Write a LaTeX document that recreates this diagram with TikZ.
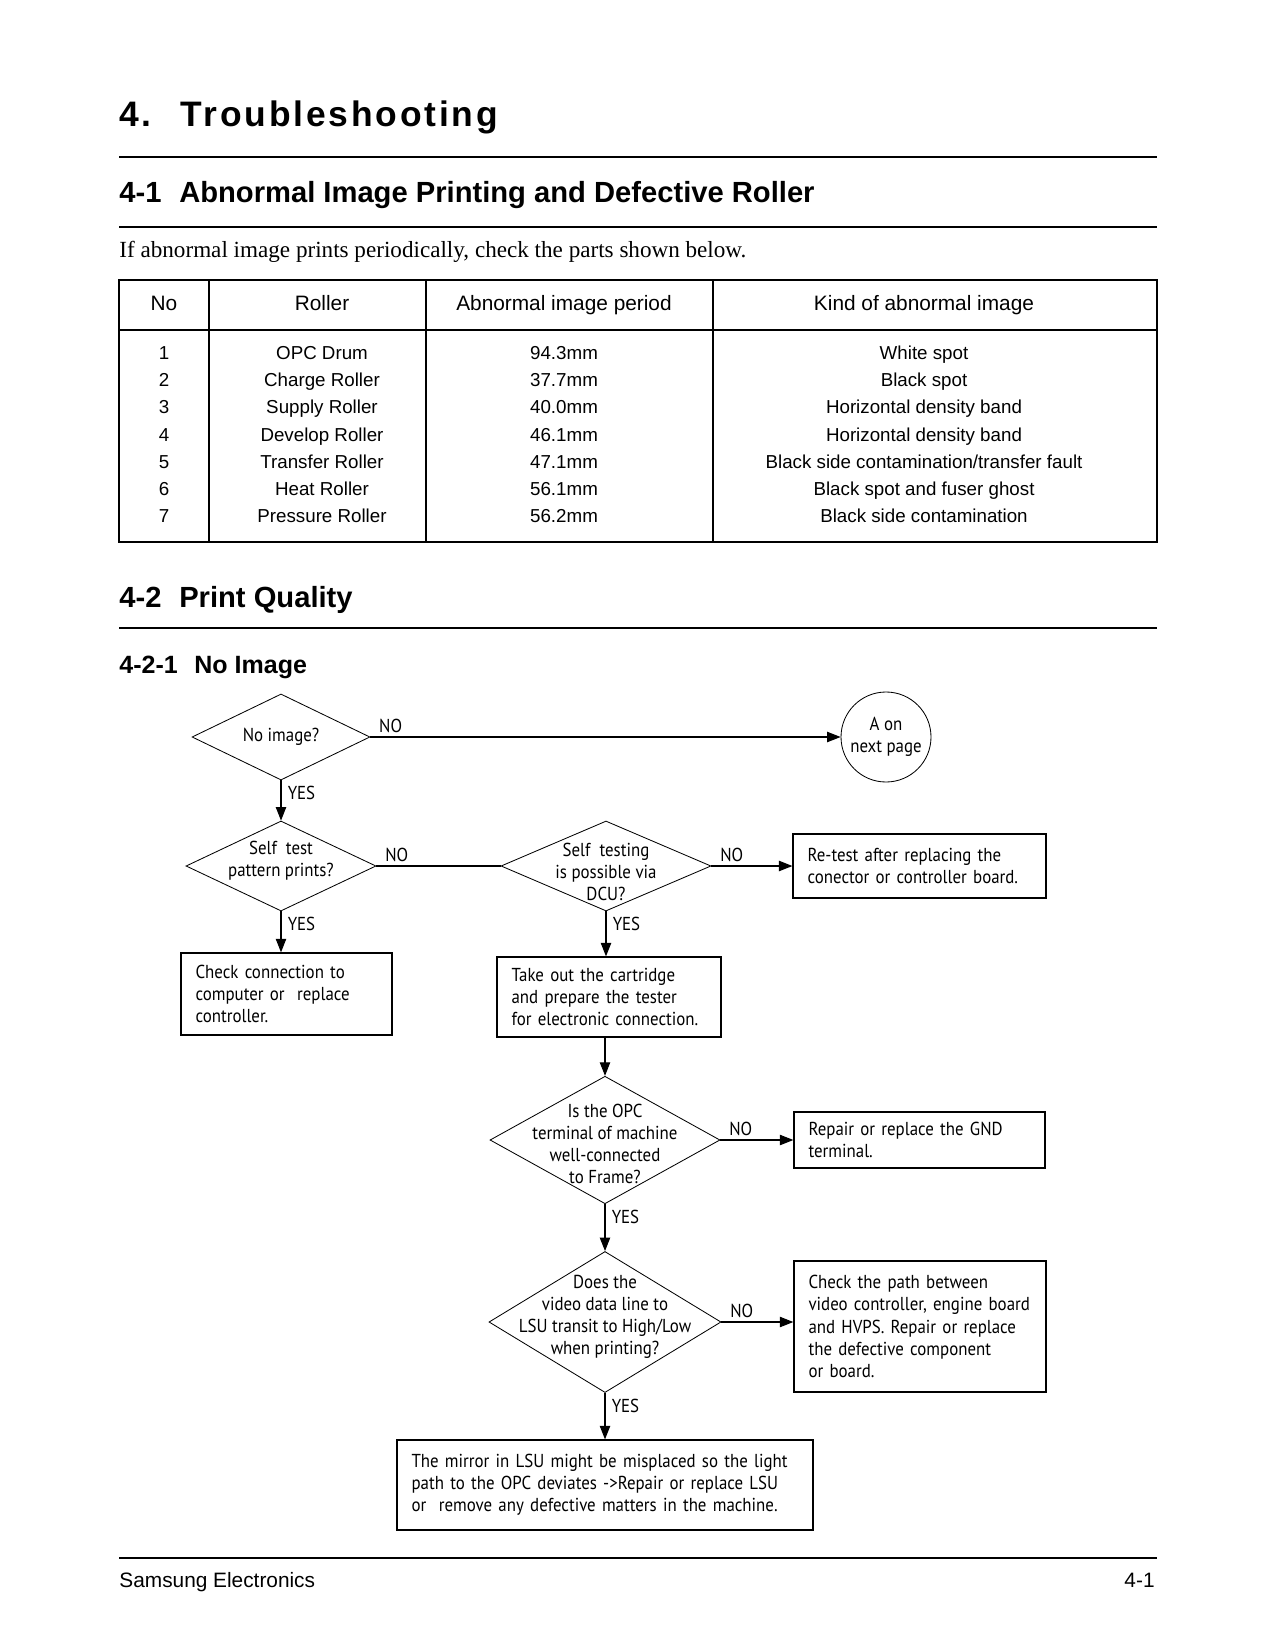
\documentclass[tikz,border=0pt]{standalone}
\usepackage{fontspec}
\setmainfont{Liberation Serif}
\setsansfont{Liberation Sans}
\newfontfamily\flowfont[FakeStretch=0.9]{PT Sans}
\newfontfamily\titlefont[LetterSpace=8]{Liberation Sans}
\usetikzlibrary{shapes.geometric,arrows.meta}

\tikzset{
  flowtext/.style={font=\flowfont\fontsize{9}{10.6}\selectfont},
  dec/.style={diamond, draw, line width=0.4pt, inner sep=0pt},
  act/.style={rectangle, draw, line width=0.6pt, align=left, inner xsep=7pt, inner ysep=0pt, flowtext},
  arr/.style={line width=0.5pt, -{Triangle[length=6.5pt,width=5pt]}},
  nolbl/.style={at start, anchor=south west, inner sep=1pt, xshift=3pt, yshift=1pt, flowtext},
  yeslbl/.style={at start, anchor=north west, inner sep=1pt, xshift=2pt, yshift=-1.5pt, flowtext},
  every label/.style={align=center, inner sep=0pt, flowtext},
  tabhead/.style={font=\sffamily\fontsize{10}{12}\selectfont, anchor=base, inner sep=0pt},
  tabcell/.style={font=\sffamily\fontsize{9}{11}\selectfont, anchor=base, inner sep=0pt},
  heading/.style={anchor=base west, inner sep=0pt},
  rule/.style={line width=1pt}
}

\begin{document}
\begin{tikzpicture}[x=0.48pt, y=-0.48pt]
\useasboundingbox (0,0) rectangle (1275,1650);

% page headings
\node[heading, font=\titlefont\bfseries\fontsize{17}{20}\selectfont] (title) at (119,127) {4.\hspace{14pt}Troubleshooting};
\draw[rule] (119,157) -- (1157,157);
\node[heading, font=\sffamily\bfseries\fontsize{14}{17}\selectfont] (sec1) at (119,203) {4-1\hspace{8.5pt}Abnormal Image Printing and Defective Roller};
\draw[rule] (119,227) -- (1157,227);
\node[heading, font=\fontsize{11.1}{13}\selectfont] (intro) at (119,258) {If abnormal image prints periodically, check the parts shown below.};

% roller table
\draw[line width=0.6pt] (119,280) rectangle (1157,542);
\draw[line width=0.6pt] (119,330) -- (1157,330);
\foreach \cx in {209,426,713}
  \draw[line width=0.6pt] (\cx,280) -- (\cx,542);
\node[tabhead] (h-no) at (164,311) {No};
\node[tabhead] (h-roller) at (322,311) {Roller};
\node[tabhead] (h-period) at (564,311) {Abnormal image period};
\node[tabhead] (h-kind) at (924,311) {Kind of abnormal image};
\foreach \n/\roller/\period/\kind in {
  1/OPC Drum/94.3mm/White spot,
  2/Charge Roller/37.7mm/Black spot,
  3/Supply Roller/40.0mm/Horizontal density band,
  4/Develop Roller/46.1mm/Horizontal density band,
  5/Transfer Roller/47.1mm/{Black side contamination/transfer fault},
  6/Heat Roller/56.1mm/Black spot and fuser ghost,
  7/Pressure Roller/56.2mm/Black side contamination}{
  \node[tabcell] (no-\n) at (164,359.5+27.2*\n-27.2) {\n};
  \node[tabcell] (roller-\n) at (322,359.5+27.2*\n-27.2) {\roller};
  \node[tabcell] (period-\n) at (564,359.5+27.2*\n-27.2) {\period};
  \node[tabcell] (kind-\n) at (924,359.5+27.2*\n-27.2) {\kind};
}

\node[heading, font=\sffamily\bfseries\fontsize{14}{17}\selectfont] (sec2) at (119,607) {4-2\hspace{8.5pt}Print Quality};
\draw[rule] (119,628) -- (1157,628);
\node[heading, font=\sffamily\bfseries\fontsize{12}{14}\selectfont] (sub1) at (119,673) {4-2-1\hspace{8pt}No Image};

% flowchart
\node[dec, minimum width=85.4pt, minimum height=41.3pt, label={center:No image?}] (d1) at (281,737) {};
\node[circle, draw, line width=0.4pt, minimum size=43.2pt, inner sep=0pt, align=center, flowtext] (next) at (886,737) {A on\\next page};
\node[dec, minimum width=91.2pt, minimum height=43.2pt, label={[yshift=2.6pt]center:{Self~ test\\pattern prints?}}] (d2) at (281,866) {};
\node[dec, minimum width=100.8pt, minimum height=43.2pt, label={[yshift=-3pt]center:{Self~ testing\\is possible via\\DCU?}}] (d3) at (606,866) {};
\node[act, text width=107.4pt, minimum height=30.7pt] (retest) at (919.5,866) {Re-test after replacing the\\conector or controller board.};
\node[act, text width=87.3pt, minimum height=39.4pt] (conn) at (286.5,994) {Check connection to\\computer or~ replace\\controller.};
\node[act, text width=93.5pt, minimum height=38.4pt] (cart) at (609,997) {Take out the cartridge\\and prepare the tester\\for electronic connection.};
\node[dec, minimum width=110.4pt, minimum height=61.2pt, label={[yshift=-2pt]center:{Is the OPC\\terminal of machine\\well-connected\\to Frame?}}] (d4) at (605,1140) {};
\node[act, text width=106.5pt, minimum height=26.9pt] (gnd) at (919.5,1140) {Repair or replace the GND\\terminal.};
\node[dec, minimum width=111.4pt, minimum height=67.7pt, label={[yshift=2.4pt]center:{Does the\\video data line to\\LSU transit to High/Low\\when printing?}}] (d5) at (605,1322) {};
\node[act, text width=107pt, minimum height=62.9pt] (path) at (920,1326.5) {Check the path between\\video controller, engine board\\and HVPS. Repair or replace\\the defective component\\or board.};
\node[act, text width=185.7pt, minimum height=43.2pt] (mirror) at (605,1485) {The mirror in LSU might be misplaced so the light\\path to the OPC deviates ->Repair or replace LSU\\or~ remove any defective matters in the machine.};

\draw[arr] (d1.east) -- node[nolbl] {NO} (next.west);
\draw[arr] (d1.south) -- node[yeslbl] {YES} (d2.north);
\draw[line width=0.5pt] (d2.east) -- node[nolbl] {NO} (d3.west);
\draw[arr] (d3.east) -- node[nolbl] {NO} (retest.west);
\draw[arr] (d2.south) -- node[yeslbl] {YES} (d2.south |- conn.north);
\draw[arr] (d3.south) -- node[yeslbl] {YES} (d3.south |- cart.north);
\draw[arr] (d4.north |- cart.south) -- (d4.north);
\draw[arr] (d4.east) -- node[nolbl] {NO} (d4.east -| gnd.west);
\draw[arr] (d4.south) -- node[yeslbl] {YES} (d5.north);
\draw[arr] (d5.east) -- node[nolbl] {NO} (d5.east -| path.west);
\draw[arr] (d5.south) -- node[yeslbl] {YES} (d5.south |- mirror.north);

% footer
\draw[line width=0.6pt] (119,1558) -- (1157,1558);
\node[heading, font=\sffamily\fontsize{10}{12}\selectfont] (maker) at (119,1587) {Samsung Electronics};
\node[anchor=base east, inner sep=0pt, font=\sffamily\fontsize{10}{12}\selectfont] (pageno) at (1155,1587) {4-1};
\end{tikzpicture}
\end{document}
